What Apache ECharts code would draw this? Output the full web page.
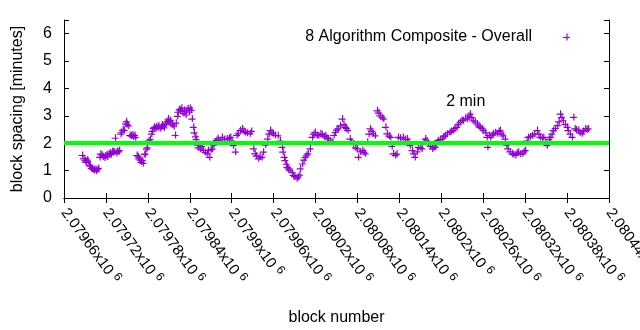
<!DOCTYPE html>
<html>
<head>
<meta charset="utf-8">
<script src="https://cdn.jsdelivr.net/npm/echarts@6/dist/echarts.min.js"></script>
<style>
html,body{margin:0;padding:0;background:#fff;}
#chart{width:640px;height:330px;}
</style>
</head>
<body>
<div id="chart"></div>
<script>
// ---- data ----
const blocks = [
2079686,2079688,2079690,2079691,2079693,2079694,2079696,2079697,2079699,2079700,
2079702,2079703,2079705,2079706,2079708,2079709,2079711,2079712,2079714,2079716,
2079718,2079719,2079721,2079722,2079724,2079726,2079727,2079729,2079730,2079732,
2079733,2079735,2079736,2079738,2079739,2079741,2079742,2079744,2079746,2079748,
2079749,2079750,2079752,2079754,2079756,2079758,2079759,2079761,2079762,2079764,
2079766,2079767,2079769,2079770,2079772,2079773,2079775,2079776,2079778,2079779,
2079781,2079783,2079785,2079786,2079788,2079789,2079791,2079792,2079794,2079795,
2079797,2079799,2079800,2079802,2079803,2079805,2079806,2079808,2079809,2079811,
2079812,2079814,2079815,2079817,2079819,2079820,2079822,2079823,2079825,2079826,
2079828,2079829,2079831,2079832,2079834,2079835,2079837,2079839,2079840,2079842,
2079843,2079845,2079846,2079848,2079849,2079851,2079852,2079855,2079857,2079859,
2079862,2079865,2079866,2079868,2079870,2079872,2079874,2079876,2079878,2079880,
2079883,2079886,2079889,2079893,2079896,2079898,2079900,2079902,2079905,2079907,
2079909,2079912,2079915,2079917,2079919,2079922,2079926,2079928,2079931,2079933,
2079935,2079938,2079940,2079943,2079945,2079948,2079951,2079953,2079955,2079957,
2079959,2079962,2079966,2079969,2079972,2079973,2079975,2079976,2079978,2079979,
2079981,2079983,2079986,2079988,2079990,2079993,2079995,2079997,2079998,2080001,
2080003,2080005,2080007,2080009,2080012,2080015,2080017,2080019,2080022,2080024,
2080027,2080029,2080032,2080034,2080036,2080038,2080041,2080044,2080046,2080048,
2080050,2080052,2080055,2080058,2080060,2080062,2080064,2080066,2080069,2080071,
2080074,2080077,2080079,2080081,2080084,2080087,2080089,2080091,2080094,2080096,
2080098,2080100,2080102,2080105,2080108,2080110,2080112,2080115,2080117,2080120,
2080122,2080125,2080127,2080129,2080131,2080134,2080136,2080138,2080141,2080145,
2080148,2080151,2080153,2080155,2080158,2080160,2080162,2080165,2080167,2080170,
2080172,2080175,2080177,2080179,2080181,2080184,2080187,2080189,2080191,2080193,
2080195,2080198,2080201,2080203,2080205,2080208,2080212,2080214,2080217,2080219,
2080222,2080224,2080227,2080229,2080231,2080234,2080237,2080239,2080241,2080243,
2080245,2080248,2080251,2080253,2080255,2080258,2080260,2080263,2080265,2080266,
2080268,2080270,2080272,2080274,2080277,2080280,2080282,2080284,2080286,2080288,
2080291,2080293,2080295,2080298,2080301,2080303,2080306,2080308,2080310,2080313,
2080316,2080318,2080320,2080322,2080324,2080327,2080330,2080333,2080337,2080339,
2080341,2080344,2080346,2080349,2080351,2080354,2080356,2080358,2080360,2080363,
2080366,2080368,2080370,2080372,2080374,2080377,2080380,2080381,2080384,2080387,
2080389,2080391,2080393,2080396,2080398,2080401,2080403,2080406,2080408,2080410
];
const spacing = [
1.57,1.45,1.38,1.32,1.40,1.36,1.22,1.18,1.10,1.08,
1.05,1.02,1.06,1.00,1.05,1.10,1.50,1.62,1.58,1.52,
1.48,1.55,1.60,1.52,1.62,1.66,1.60,1.72,1.68,1.70,
2.20,1.65,1.72,1.70,1.75,2.35,2.42,2.50,2.48,2.72,
2.80,2.70,2.65,2.30,2.28,2.32,2.25,2.30,2.22,1.57,
1.52,1.45,1.40,1.32,1.38,1.28,1.60,1.62,1.80,1.85,
2.10,2.15,2.35,2.45,2.55,2.60,2.55,2.62,2.58,2.65,
2.55,2.60,2.68,2.62,2.58,2.70,2.75,2.82,2.90,2.78,
2.85,2.72,2.68,2.62,2.30,2.75,3.00,3.15,3.25,3.20,
3.30,3.18,3.10,3.22,3.05,3.20,3.28,3.15,3.30,3.22,
2.90,2.60,2.40,2.25,2.15,1.95,1.85,1.80,1.90,1.75,
1.68,1.63,1.75,1.50,1.78,1.80,1.95,2.05,2.12,2.18,
2.10,2.23,2.15,2.17,2.20,2.23,2.10,1.93,1.69,2.30,
2.36,2.48,2.54,2.45,2.41,2.38,2.36,2.45,1.81,1.63,
1.55,1.45,1.52,1.50,1.69,1.95,2.17,2.35,2.48,2.40,
2.36,2.30,2.29,2.10,1.87,1.69,1.50,1.38,1.25,1.14,
1.08,1.02,0.95,0.84,0.80,0.72,0.78,0.85,1.08,1.26,
1.40,1.50,1.58,1.63,1.81,2.23,2.35,2.41,2.30,2.29,
2.36,2.33,2.25,2.29,2.20,2.18,2.10,2.05,2.30,2.41,
2.50,2.54,2.65,2.90,2.70,2.60,2.55,2.48,2.17,2.05,
1.99,1.85,1.81,1.50,1.70,1.75,1.68,1.63,2.05,2.35,
2.54,2.45,2.36,2.29,3.20,3.12,3.02,2.95,2.90,2.60,
2.36,2.28,2.23,1.90,1.63,1.57,1.62,2.23,2.20,2.23,
2.15,2.17,2.05,1.93,1.75,1.63,1.50,1.70,1.87,1.85,
1.81,2.05,2.17,2.10,1.99,1.90,1.81,1.85,1.87,2.00,
2.11,2.15,2.17,2.25,2.29,2.35,2.41,2.45,2.48,2.55,
2.60,2.70,2.78,2.85,2.84,2.92,2.90,3.00,3.08,2.95,
2.84,2.80,2.72,2.65,2.60,2.55,2.48,2.40,2.23,1.87,
2.30,2.23,2.30,2.36,2.40,2.36,2.45,2.48,2.35,2.29,
2.17,1.95,1.81,1.70,1.63,1.60,1.57,1.65,1.69,1.62,
1.63,1.70,1.75,2.10,2.23,2.25,2.29,2.35,2.48,2.35,
2.23,2.20,2.23,2.05,1.93,2.15,2.23,2.35,2.48,2.55,
2.66,2.80,3.08,2.95,2.84,2.70,2.60,2.48,2.35,2.23,
2.96,2.54,2.50,2.48,2.40,2.36,2.45,2.54,2.50,2.54
];
const seriesName = '8 Algorithm Composite - Overall';
const targetMinutes = 2;
const targetLabel = '2 min';
const targetLabelPos = [2080207, 3.53];
const xMin = 2079660, xMax = 2080440, xStep = 60;
const yMin = 0, yMax = 6.5, yStep = 1;
const xTitle = 'block number';
const yTitle = 'block spacing [minutes]';

// ---- chart ----
const FONT = 'Liberation Sans';
const PURPLE = '#9400d3';
const PLUS = 'path://M0,3.4H7V4.6H0Z M3.4,0H4.6V7H3.4Z';
const pts = blocks.map((b, i) => [b, spacing[i]]);

function xLabel(v) {
  const s = String(parseFloat((v / 1e6).toFixed(5)));
  return '{a|' + s + 'x10}{s|6}';
}

const chart = echarts.init(document.getElementById('chart'), null, {renderer: 'canvas'});
const baseX = {
  type: 'value', min: xMin, max: xMax, interval: xStep,
  axisLine: {show: true, lineStyle: {color: '#000', width: 1}},
  axisTick: {show: true, inside: true, length: 5, lineStyle: {color: '#000'}},
  splitLine: {show: false}
};
const baseY = {
  type: 'value', min: yMin, max: yMax, interval: yStep,
  axisLine: {show: true, lineStyle: {color: '#000', width: 1}},
  axisTick: {show: true, inside: true, length: 5, lineStyle: {color: '#000'}},
  splitLine: {show: false}
};
chart.setOption({
  animation: false,
  backgroundColor: '#fff',
  textStyle: {fontFamily: FONT},
  grid: {left: 64, right: 31, top: 20, bottom: 132, containLabel: false, outerBoundsMode: 'none'},
  legend: {
    show: true, right: 65, top: 24, align: 'right',
    itemWidth: 7, itemHeight: 7, itemGap: 0,
    textStyle: {fontFamily: FONT, fontSize: 16, color: '#000', padding: [0, 26, 0, 0]},
    data: [{name: seriesName, icon: PLUS}]
  },
  xAxis: [
    Object.assign({}, baseX, {
      position: 'bottom',
      name: xTitle, nameLocation: 'middle', nameGap: 112,
      nameTextStyle: {fontFamily: FONT, fontSize: 16, color: '#000'},
      axisLabel: {
        show: true, rotate: -54, margin: 12, hideOverlap: false,
        showMinLabel: true, showMaxLabel: true,
        formatter: xLabel,
        rich: {
          a: {fontFamily: FONT, fontSize: 15, color: '#000'},
          s: {fontFamily: FONT, fontSize: 12, color: '#000', padding: [0, 0, 8, 4]}
        }
      }
    }),
    Object.assign({}, baseX, {position: 'top', axisLabel: {show: false}})
  ],
  yAxis: [
    Object.assign({}, baseY, {
      position: 'left',
      name: yTitle, nameLocation: 'middle', nameGap: 38,
      nameTextStyle: {fontFamily: FONT, fontSize: 16, color: '#000'},
      axisLabel: {
        show: true, margin: 12, fontFamily: FONT, fontSize: 16, color: '#000',
        formatter: v => (Number.isInteger(v) ? String(v) : '')
      }
    }),
    Object.assign({}, baseY, {position: 'right', axisLabel: {show: false}})
  ],
  series: [{
    name: seriesName,
    type: 'scatter',
    data: pts,
    symbol: PLUS,
    symbolSize: 7,
    itemStyle: {color: PURPLE, opacity: 1},
    markLine: {
      silent: true, symbol: 'none', animation: false,
      label: {show: false},
      lineStyle: {color: '#00ff00', width: 4, type: 'solid'},
      data: [{yAxis: targetMinutes}]
    },
    markPoint: {
      silent: true, symbol: 'circle', symbolSize: 0, animation: false,
      label: {show: true, position: 'right', distance: 0, formatter: targetLabel,
              fontFamily: FONT, fontSize: 16, color: '#000'},
      data: [{coord: targetLabelPos}]
    }
  }]
});
</script>
</body>
</html>
